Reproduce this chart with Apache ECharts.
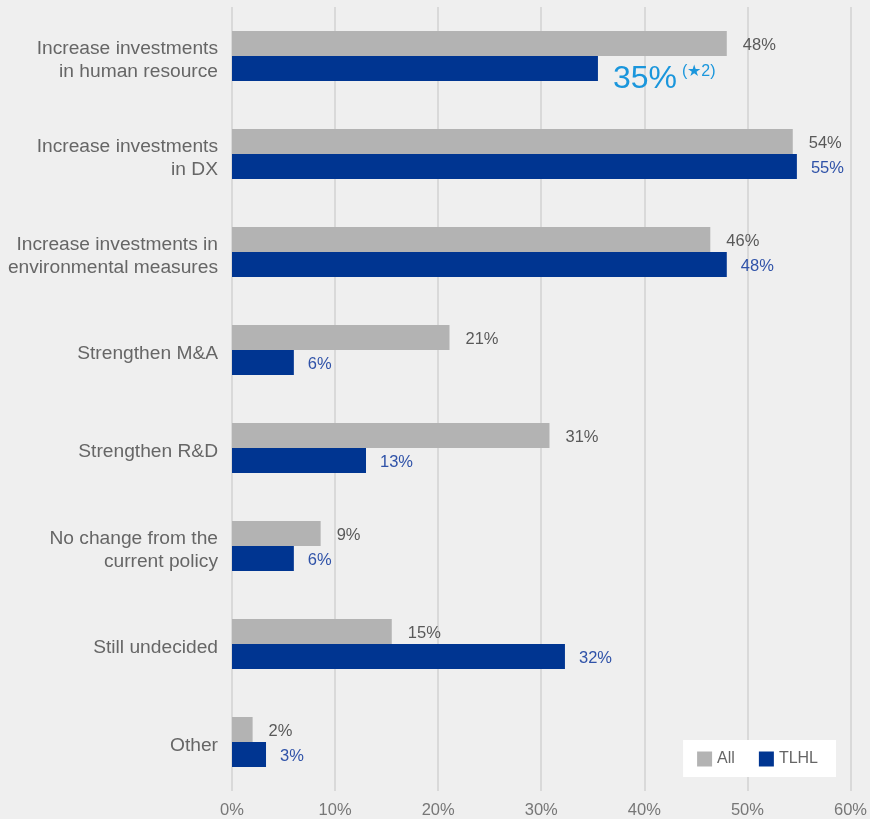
<!DOCTYPE html>
<html><head><meta charset="utf-8">
<script src="https://cdn.jsdelivr.net/npm/echarts@6/dist/echarts.min.js"></script>
<style>html,body{margin:0;padding:0;background:#efefef}#c{width:870px;height:819px}</style>
</head><body><div id="c"></div>
<script>
const categories = [
  "Increase investments\nin human resource",
  "Increase investments\nin DX",
  "Increase investments in\nenvironmental measures",
  "Strengthen M&A",
  "Strengthen R&D",
  "No change from the\ncurrent policy",
  "Still undecided",
  "Other"
];
const allValues  = [48.0, 54.4, 46.4, 21.1, 30.8, 8.6, 15.5, 2.0];
const tlhlValues = [35.5, 54.8, 48.0, 6.0, 13.0, 6.0, 32.3, 3.3];
const allLabels  = ["48%", "54%", "46%", "21%", "31%", "9%", "15%", "2%"];
const tlhlLabels = ["35%", "55%", "48%", "6%", "13%", "6%", "32%", "3%"];
const noteLabel = "(★2)";
const xTicks = [0, 10, 20, 30, 40, 50, 60];

const font = 'Liberation Sans, Arial, sans-serif';
const chart = echarts.init(document.getElementById('c'));
chart.setOption({
  backgroundColor: '#efefef',
  animation: false,
  grid: { left: 232, right: 19, top: 7, bottom: 28 },
  legend: {
    right: 34, bottom: 42,
    backgroundColor: '#ffffff',
    padding: [11, 18, 10, 14],
    icon: 'rect',
    itemWidth: 15, itemHeight: 15, itemGap: 24,
    textStyle: { color: '#666', fontSize: 16, fontFamily: font },
    data: ['All', 'TLHL']
  },
  xAxis: {
    type: 'value', min: xTicks[0], max: xTicks[xTicks.length - 1], interval: 10,
    axisLine: { show: false }, axisTick: { show: false },
    splitLine: { lineStyle: { color: '#d9d9d9', width: 2 } },
    axisLabel: { color: '#777', fontSize: 16.5, fontFamily: font, margin: 11, formatter: v => v + '%' }
  },
  yAxis: {
    type: 'category', inverse: true, data: categories,
    axisLine: { show: false }, axisTick: { show: false },
    axisLabel: {
      color: '#666', fontSize: 19.2, fontFamily: font, margin: 14, align: 'right',
      formatter: v => '{s| }\n' + v.split('\n').map(l => '{t|' + l + '}').join('\n'),
      rich: {
        s: { fontSize: 1, lineHeight: 8 },
        t: { color: '#666', fontSize: 19.2, fontFamily: font, lineHeight: 23, align: 'right' }
      }
    }
  },
  series: [
    {
      name: 'All', type: 'bar', data: allValues,
      barWidth: 25, barGap: '0%',
      itemStyle: { color: '#b3b3b3' },
      label: {
        show: true, position: 'right', distance: 16, offset: [0, 1.5],
        color: '#595959', fontSize: 16.5, fontFamily: font,
        formatter: p => allLabels[p.dataIndex]
      }
    },
    {
      name: 'TLHL', type: 'bar', data: tlhlValues.map((v, i) => i === 0 ? {
        value: v,
        label: {
          distance: 15, offset: [0, 11],
          formatter: '{big|' + tlhlLabels[0] + '}{sm|' + noteLabel + '}',
          rich: {
            big: { color: '#1a96dc', fontSize: 32, fontFamily: font },
            sm: { color: '#1a96dc', fontSize: 16, fontFamily: font, verticalAlign: 'top', padding: [0, 0, 12, 5] }
          }
        }
      } : v),
      barWidth: 25,
      itemStyle: { color: '#003591' },
      label: {
        show: true, position: 'right', distance: 14, offset: [0, 1.5],
        color: '#2f52a8', fontSize: 16.5, fontFamily: font,
        formatter: p => tlhlLabels[p.dataIndex]
      }
    }
  ]
});
</script></body></html>
